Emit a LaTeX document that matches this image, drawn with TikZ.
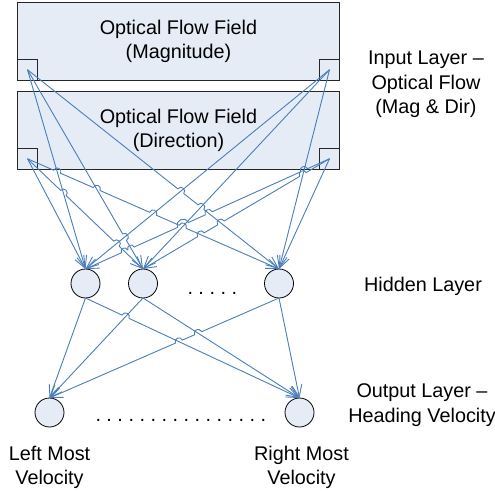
\documentclass[tikz,border=0pt]{standalone}
\usepackage{fontspec}
\setmainfont{Liberation Sans}
\usetikzlibrary{arrows.meta,calc}
\definecolor{lineblue}{RGB}{74,126,187}
\definecolor{fillblue}{RGB}{230,236,246}
\newcommand\hopline[4]{%
  \draw[conn] (#2) \foreach \hp/\hrr/\hdd in {#4}{
    -- ($(\hp)!\hrr!(#2)$) to[out=#1,in=#1,relative,distance=\hdd] ($(\hp)!\hrr!(#3)$)
  } -- (#3);
}
\begin{document}
\begin{tikzpicture}[x=1pt,y=-1pt,
  font=\fontsize{19.8}{24.5}\selectfont\frenchspacing,
  conn/.style={draw=lineblue,line width=0.9pt,-{Straight Barb[length=12pt,width=10pt]}},
  inbox/.style={draw=black!85,line width=1.1pt,fill=fillblue,minimum width=322pt,minimum height=77.5pt,inner sep=0pt,outer sep=0pt,align=center},
  corner/.style={draw=black!85,line width=0.8pt,fill=fillblue,minimum width=20pt,minimum height=21pt,inner sep=0pt,outer sep=0pt},
  neuron/.style={circle,draw=black,line width=0.8pt,fill=fillblue,minimum size=29pt,inner sep=0pt,outer sep=0pt},
  lbl/.style={align=center,inner sep=0pt,anchor=north},
  dots/.style={anchor=base west,inner sep=0pt}]
\useasboundingbox (0,0) rectangle (495,492);
% input boxes
\node[inbox] (mag) at (178.5,41.5) {Optical Flow Field\\(Magnitude)};
\node[inbox] (dir) at (178.5,130.5) {Optical Flow Field\\(Direction)};
\node[corner,anchor=south west] (mlsq) at (mag.south west) {};
\node[corner,anchor=south east] (mrsq) at (mag.south east) {};
\node[corner,anchor=south west] (dlsq) at (dir.south west) {};
\node[corner,anchor=south east] (drsq) at (dir.south east) {};
% hidden and output neurons
\node[neuron] (h1) at (85.5,283.5) {};
\node[neuron] (h2) at (143,283.5) {};
\node[neuron] (h3) at (279,283.5) {};
\node[neuron] (o1) at (49.5,412.5) {};
\node[neuron] (o2) at (299.5,412.5) {};
% connection points
\coordinate (ML) at (mlsq.center);
\coordinate (MR) at (mrsq.center);
\coordinate (DL) at (dlsq.center);
\coordinate (DR) at (drsq.center);
\coordinate (H1) at (h1.north);
\coordinate (H2) at (h2.north);
\coordinate (H3) at (h3.north);
\coordinate (S1) at (h1.south);
\coordinate (S2) at (h2.south);
\coordinate (S3) at (h3.south);
\coordinate (O1) at (o1.north);
\coordinate (O2) at (o2.north);
% crossings
\coordinate (a2b1) at (intersection of ML--H2 and MR--H1);
\coordinate (a3b1) at (intersection of ML--H3 and MR--H1);
\coordinate (a3b2) at (intersection of ML--H3 and MR--H2);
\coordinate (c2a1) at (intersection of DL--H2 and ML--H1);
\coordinate (c2b1) at (intersection of DL--H2 and MR--H1);
\coordinate (c3a1) at (intersection of DL--H3 and ML--H1);
\coordinate (c3a2) at (intersection of DL--H3 and ML--H2);
\coordinate (c3b1) at (intersection of DL--H3 and MR--H1);
\coordinate (c3b2) at (intersection of DL--H3 and MR--H2);
\coordinate (d1b3) at (intersection of DR--H1 and MR--H3);
\coordinate (d1a3) at (intersection of DR--H1 and ML--H3);
\coordinate (d1b2) at (intersection of DR--H1 and MR--H2);
\coordinate (d1c3) at (intersection of DR--H1 and DL--H3);
\coordinate (d1bc) at ($(d1b2)!0.5!(d1c3)$);
\coordinate (d1a2) at (intersection of DR--H1 and ML--H2);
\coordinate (d1c2) at (intersection of DR--H1 and DL--H2);
\coordinate (d2b3) at (intersection of DR--H2 and MR--H3);
\coordinate (d2a3) at (intersection of DR--H2 and ML--H3);
\coordinate (d2c3) at (intersection of DR--H2 and DL--H3);
\coordinate (e2f1) at (intersection of S1--O2 and S2--O1);
\coordinate (g1f2) at (intersection of S3--O1 and S2--O2);
\coordinate (g1e2) at (intersection of S3--O1 and S1--O2);
% input -> hidden
\draw[conn] (MR) -- (H1);
\draw[conn] (MR) -- (H2);
\draw[conn] (MR) -- (H3);
\draw[conn] (ML) -- (H1);
\hopline{90}{ML}{H2}{a2b1/3.8pt/5.1pt}
\hopline{90}{ML}{H3}{a3b1/3.8pt/5.1pt, a3b2/3.8pt/5.1pt}
\draw[conn] (DL) -- (H1);
\hopline{90}{DL}{H2}{c2a1/3.8pt/5.1pt, c2b1/3.8pt/5.1pt}
\hopline{90}{DL}{H3}{c3a1/3.8pt/5.1pt, c3a2/3.8pt/5.1pt, c3b1/3.8pt/5.1pt, c3b2/3.8pt/5.1pt}
\hopline{-90}{DR}{H1}{d1b3/3.8pt/5.1pt, d1a3/3.8pt/5.1pt, d1bc/5.8pt/7.7pt, d1a2/3.4pt/4.5pt, d1c2/3.4pt/4.5pt}
\hopline{-90}{DR}{H2}{d2b3/3.8pt/5.1pt, d2a3/3.8pt/5.1pt, d2c3/3.8pt/5.1pt}
\draw[conn] (DR) -- (H3);
% hidden -> output
\draw[conn] (S1) -- (O1);
\draw[conn] (S2) -- (O1);
\hopline{90}{S1}{O2}{e2f1/3.8pt/5.1pt}
\draw[conn] (S2) -- (O2);
\hopline{-90}{S3}{O1}{g1f2/3.8pt/5.1pt, g1e2/3.8pt/5.1pt}
\draw[conn] (S3) -- (O2);
% dots
\node[dots] (hdots) at (187.3,294.5) {. . . . .};
\node[dots] (odots) at (95.3,421.5) {. . . . . . . . . . . . . . . .};
% labels
\node[lbl] (inlbl) at (426,50.8) {Input Layer –\\Optical Flow\\(Mag \& Dir)};
\node[lbl] (hidlbl) at (423,277.2) {Hidden Layer};
\node[lbl] (outlbl) at (422,383.8) {Output Layer –\\Heading Velocity};
\node[lbl] (leftlbl) at (49.5,445.5) {Left Most\\Velocity};
\node[lbl] (rightlbl) at (301.5,445.5) {Right Most\\Velocity};
\end{tikzpicture}
\end{document}
